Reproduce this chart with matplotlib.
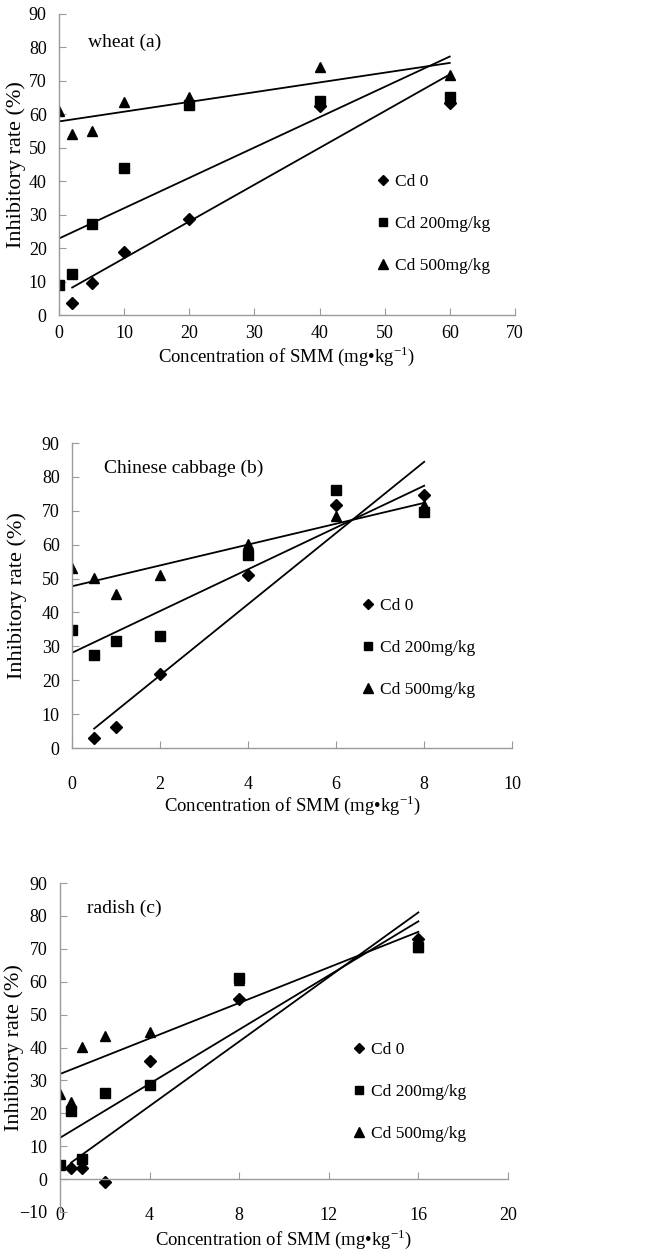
import numpy as np
import matplotlib
matplotlib.use("Agg")
import matplotlib.pyplot as plt

plt.rcParams['font.family'] = ['Liberation Serif', 'DejaVu Serif']
plt.rcParams['mathtext.fontset'] = 'custom'
plt.rcParams['mathtext.rm'] = 'Liberation Serif'

# ---- data
series_names = ['Cd 0', 'Cd 200mg/kg', 'Cd 500mg/kg']
series_markers = ['D', 's', '^']

# wheat (a)
wheat_x = [[2, 5, 10, 20, 40, 60],
           [0, 2, 5, 10, 20, 40, 60],
           [0, 2, 5, 10, 20, 40, 60]]
wheat_y = [[3.7, 9.5, 18.9, 28.6, 62.5, 63.3],
           [9.0, 12.3, 27.1, 43.9, 62.8, 64.1, 65.1],
           [61.0, 54.0, 55.0, 63.8, 65.3, 74.0, 71.8]]

# Chinese cabbage (b)
cabbage_x = [[0.5, 1, 2, 4, 6, 8],
             [0, 0.5, 1, 2, 4, 6, 8],
             [0, 0.5, 1, 2, 4, 6, 8]]
cabbage_y = [[3.1, 6.2, 21.9, 51.1, 71.6, 74.7],
             [34.7, 27.5, 31.5, 33.1, 57.0, 76.0, 69.5],
             [53.1, 50.1, 45.4, 51.1, 60.3, 68.5, 71.8]]

# radish (c)
radish_x = [[0.5, 1, 2, 4, 8, 16],
            [0, 0.5, 1, 2, 4, 8, 16],
            [0, 0.5, 1, 2, 4, 8, 16]]
radish_y = [[3.5, 3.5, -0.8, 35.9, 54.8, 73.1],
            [4.2, 20.8, 6.0, 26.2, 28.7, 61.1, 70.4],
            [25.9, 23.4, 40.2, 43.6, 44.8, 60.4, 70.4]]

xlabel = 'Concentration of SMM (mg\u2022kg$^{-1}$)'
ylabel = 'Inhibitory rate (%)'
gray = '#9a9a9a'
fs = 13

fig = plt.figure(figsize=(6.5, 12.6), dpi=100)

panels = [
    # rect, xs, ys, title, xlim, xticks, ylim, yticks, title pos, legend pos, xpad, xlabelpad, ylabel x
    ([0.091, 0.75, 0.701, 0.239], wheat_x, wheat_y, 'wheat (a)',
     (0, 70), np.arange(0, 71, 10), (0, 90), np.arange(0, 91, 10),
     (0.064, 0.907), (0.70, 0.302), 7, 2, -0.072),
    ([0.111, 0.4063, 0.677, 0.2421], cabbage_x, cabbage_y, 'Chinese cabbage (b)',
     (0, 10), np.arange(0, 11, 2), (0, 90), np.arange(0, 91, 10),
     (0.073, 0.918), (0.66, 0.328), 20, 0, -0.102),
    ([0.0923, 0.0381, 0.6892, 0.2611], radish_x, radish_y, 'radish (c)',
     (0, 20), np.arange(0, 21, 4), (-10, 90), np.arange(-10, 91, 10),
     (0.060, 0.924), (0.655, 0.365), 20, 2, -0.080),
]

for rect, xs, ys, title, xlim, xticks, ylim, yticks, tpos, lpos, xpad, xlp, ylx in panels:
    ax = fig.add_axes(rect)
    for x, y, name, m in zip(xs, ys, series_names, series_markers):
        ms = 7.5 if m == '^' else (6 if m == 'D' else 6.5)
        ax.plot(x, y, linestyle='none', marker=m, color='black', ms=ms, label=name)
        # linear trend line
        k, b = np.polyfit(x, y, 1)
        xx = np.array([min(x), max(x)])
        ax.plot(xx, k * xx + b, color='black', lw=1.3)
    ax.set_xlim(*xlim)
    ax.set_ylim(*ylim)
    ax.set_xticks(xticks)
    ax.set_yticks(yticks)
    for s in ['top', 'right']:
        ax.spines[s].set_visible(False)
    for s in ['left', 'bottom']:
        ax.spines[s].set_color(gray)
        ax.spines[s].set_linewidth(1.0)
    if ylim[0] < 0:
        ax.spines['bottom'].set_position(('data', 0))
    ax.tick_params(axis='both', direction='in', length=5, color=gray, labelsize=fs)
    ax.tick_params(axis='x', pad=xpad)
    ax.tick_params(axis='y', pad=9)
    ax.set_ylabel(ylabel, fontsize=16)
    ax.yaxis.set_label_coords(ylx, 0.5)
    ax.set_xlabel(xlabel, fontsize=13.5, labelpad=xlp)
    ax.text(tpos[0], tpos[1], title, transform=ax.transAxes, fontsize=14,
            ha='left', va='center')
    ax.legend(loc='center left', bbox_to_anchor=lpos, frameon=False, fontsize=12.5,
              handlelength=0.6, handletextpad=0.4, labelspacing=1.5,
              borderpad=0, borderaxespad=0, markerscale=0.9)

fig.savefig('out.png', dpi=100)
